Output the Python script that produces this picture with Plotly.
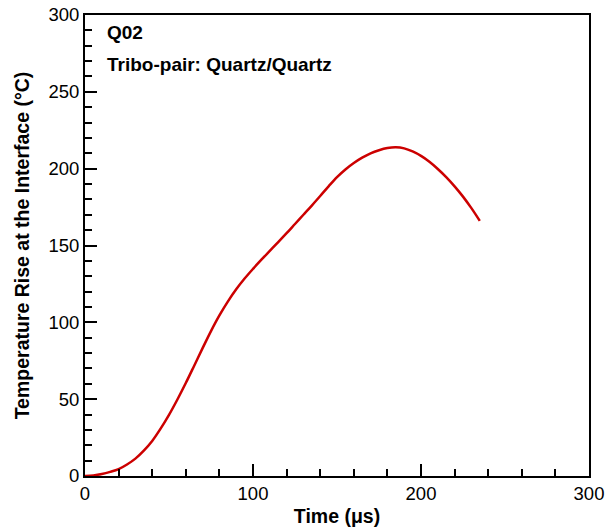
import plotly.graph_objects as go

time_us = [0, 5, 10, 15, 20, 25, 30, 35, 40, 45, 50, 55, 60, 65, 70, 75, 80, 85, 90, 95,
           100, 105, 110, 115, 120, 125, 130, 135, 140, 145, 150, 155, 160, 165, 170, 175,
           180, 185, 190, 195, 200, 205, 210, 215, 220, 225, 230, 235]
temp_rise = [0, 0.4, 1.3, 2.7, 4.5, 7.5, 11.3, 16.5, 22.8, 30.8, 39.8, 49.8, 60.5, 71.8, 83.2, 94.3,
             104.5, 113.5, 121.5, 128.5, 134.8, 140.8, 146.5, 152.2, 158, 164, 170, 176, 182.2,
             188.5, 194.5, 199.5, 203.7, 207.2, 210, 212, 213.4, 213.9, 213.2, 211.2, 208.3,
             204.5, 199.8, 194.5, 188.5, 181.8, 174.3, 166]

FONT = "Liberation Sans, Arial, Helvetica, sans-serif"

fig = go.Figure()
fig.add_trace(go.Scatter(x=time_us, y=temp_rise, mode="lines",
                         line=dict(color="#cc0000", width=2.5, shape="spline", smoothing=1),
                         showlegend=False, hoverinfo="skip"))

axis_common = dict(
    showgrid=False, zeroline=False, showline=True, linecolor="black", linewidth=2,
    mirror=True, ticks="inside", tickcolor="black", tickwidth=1.5, ticklen=12,
    tickfont=dict(family=FONT, size=18.5, color="black"), automargin=False,
)

fig.update_xaxes(range=[0, 300], tickvals=[0, 100, 200, 300],
                 minor=dict(tickvals=[v for v in range(20, 300, 20) if v % 100 != 0],
                            ticks="inside", ticklen=7, tickwidth=1.5, tickcolor="black"),
                 title=dict(text="<b>Time (μs)</b>", font=dict(family=FONT, size=19.5, color="black"),
                            standoff=6),
                 **axis_common)
fig.update_yaxes(range=[0, 300], tickvals=[0, 50, 100, 150, 200, 250, 300],
                 minor=dict(tickvals=[v for v in range(10, 300, 10) if v % 50 != 0],
                            ticks="inside", ticklen=7, tickwidth=1.5, tickcolor="black"),
                 title=dict(text="<b>Temperature Rise at the Interface (°C)</b>",
                            font=dict(family=FONT, size=19.5, color="black"), standoff=14),
                 **axis_common)

fig.add_annotation(x=0, y=1, xref="paper", yref="paper", xanchor="left", yanchor="middle",
                   xshift=20, yshift=-17, showarrow=False,
                   text="<b>Q02</b>", font=dict(family=FONT, size=19, color="black"))
fig.add_annotation(x=0, y=1, xref="paper", yref="paper", xanchor="left", yanchor="middle",
                   xshift=20, yshift=-49, showarrow=False,
                   text="<b>Tribo-pair: Quartz/Quartz</b>", font=dict(family=FONT, size=19, color="black"))

fig.update_layout(width=605, height=529, margin=dict(l=85, r=16, t=15, b=53),
                  paper_bgcolor="white", plot_bgcolor="white")

fig.write_html("out.html", config={"displayModeBar": False},
               post_script="document.body.style.margin='0';document.body.style.overflow='hidden';")
